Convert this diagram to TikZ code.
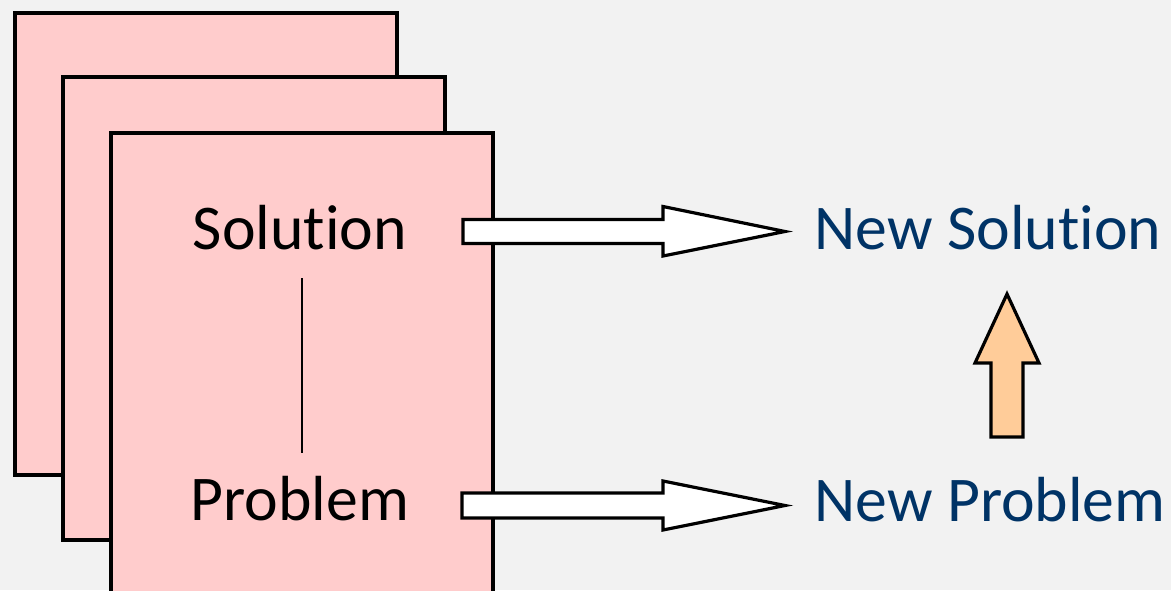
\documentclass[tikz,border=0pt]{standalone}
\usepackage{fontspec}
\setmainfont{Carlito}[RawFeature=-liga]
\definecolor{bg}{HTML}{F2F2F2}
\definecolor{card}{HTML}{FFCCCC}
\definecolor{newblue}{HTML}{003366}
\definecolor{upfill}{HTML}{FFCC99}
\tikzset{
  card/.style={draw=black, fill=card, line width=2.4pt},
  blockarrow/.style={draw=black, fill=white, line width=2.4pt, line join=miter},
  uparrow/.style={draw=black, fill=upfill, line width=2.4pt, line join=miter},
  label/.style={inner sep=0pt, anchor=base, font=\fontsize{47.8}{57}\selectfont},
  newlabel/.style={label, text=newblue}
}
\begin{document}
\begin{tikzpicture}[x=0.75pt,y=-0.75pt]
  \useasboundingbox (0,0) rectangle (1171,590);
  \fill[bg] (0,0) rectangle (1171,590);
  \clip (0,0) rectangle (1171,590);

  % stacked case cards
  \draw[card] (15,13) rectangle (397,475);
  \draw[card] (63,77) rectangle (445,540);
  \draw[card] (111,133) rectangle (493,620);

  % labels
  \node[label] (sol)  at (300,249) {Solution};
  \node[label] (prob) at (300,520) {Problem};
  \node[newlabel] (nsol)  at (988,249) {New Solution};
  \node[newlabel] (nprob) at (990,521) {New Problem};

  % link between solution and problem
  \coordinate (linktop) at (302,278);
  \coordinate (linkbot) at (302,453);
  \draw[line width=1.4pt] (linktop) -- (linkbot);

  % adaptation arrows
  \coordinate (a1) at (463,231.5);
  \draw[blockarrow] (a1) ++(0,-12) -- ++(200,0) -- ++(0,-13) -- (785,231.5)
     -- (663,256) -- (663,243.5) -- (463,243.5) -- cycle;
  \coordinate (a2) at (462,505.5);
  \draw[blockarrow] (a2) ++(0,-12.5) -- (663,493) -- (663,481) -- (785,505.5)
     -- (663,530) -- (663,518) -- (462,518) -- cycle;

  % revision arrow
  \coordinate (up) at (1007,294);
  \draw[uparrow] (up) -- (1039,363) -- (1023,363) -- (1023,437)
     -- (991,437) -- (991,363) -- (975,363) -- cycle;
\end{tikzpicture}
\end{document}
